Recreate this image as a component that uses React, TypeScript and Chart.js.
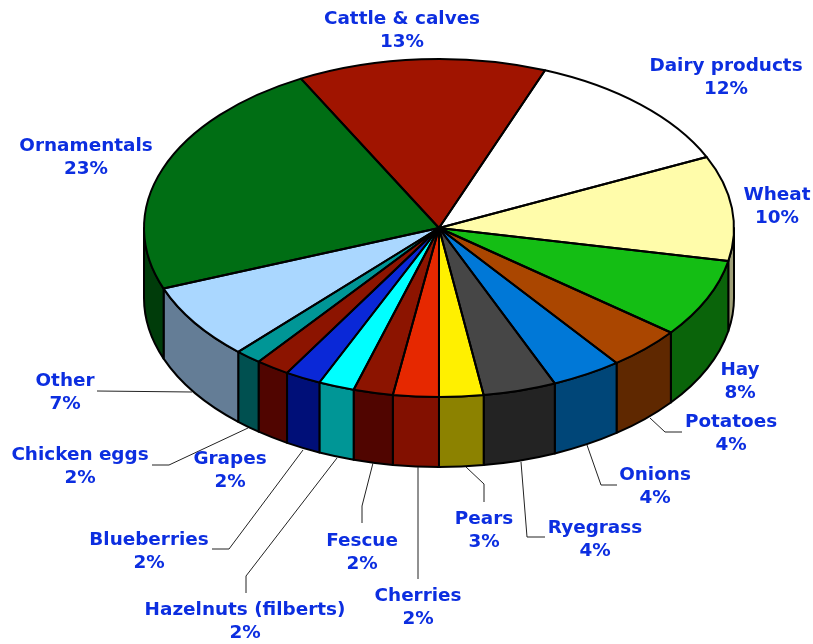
import React, { useEffect, useRef } from "react";
import { Chart, registerables } from "chart.js";

Chart.register(...registerables);

const categories = ["Cattle & calves", "Dairy products", "Wheat", "Hay", "Potatoes", "Onions", "Ryegrass", "Pears", "Cherries", "Fescue", "Hazelnuts (filberts)", "Blueberries", "Grapes", "Chicken eggs", "Other", "Ornamentals"];
const sliceValues = [13.6, 12.25, 10.03, 7.47, 4.11, 3.86, 4.0, 2.42, 2.5, 2.17, 1.97, 1.97, 1.86, 1.44, 7.25, 23.08];
const shownPercents = ["13%", "12%", "10%", "8%", "4%", "4%", "4%", "3%", "2%", "2%", "2%", "2%", "2%", "2%", "7%", "23%"];
const topColors = ["#A01400", "#FFFFFF", "#FFFCAA", "#14BE14", "#AA4600", "#0078D7", "#464646", "#FFF000", "#E62800", "#8C1400", "#00FFFF", "#0A28D7", "#8C1400", "#009696", "#AAD7FF", "#006E14"];
const sideColors = ["#500A00", "#808080", "#A0A078", "#0A640A", "#5F2800", "#004678", "#232323", "#8C8200", "#821000", "#500500", "#009696", "#000F78", "#500500", "#005050", "#647D96", "#003C0A"];

// Presentation only: label anchors (centre x, first-line y) and leader-line paths.
const labelAnchors: [number, number][] = [[402, 18], [726, 65], [777, 194], [740, 369], [731, 421], [655, 474], [595, 527], [484, 518], [418, 595], [362, 540], [245, 609], [149, 539], [230, 458], [80, 454], [65, 380], [86, 145]];
const leaderPaths: [number, number][][] = [
  [[650, 418], [665, 432], [682, 432]],
  [[587, 445], [601, 485], [617, 485]],
  [[521, 462], [527, 537], [545, 537]],
  [[466, 467], [484, 484], [484, 502]],
  [[418, 467], [418, 579]],
  [[373, 463], [362, 506], [362, 523]],
  [[337, 458], [246, 576], [246, 593]],
  [[303, 450], [229, 549], [212, 549]],
  [[248, 428], [169, 465], [152, 465]],
  [[192, 392], [97, 391]],
];

const CENTER_X = 439;
const CENTER_Y = 228;
const RADIUS_Y = 169;
const DEPTH = 70;
const START_ROTATION = -27.9;
const LABEL_FONT = "bold 18.4px 'DejaVu Sans'";
const LABEL_COLOR = "#0C2EE0";
const LINE_GAP = 22.5;
const EDGE_WIDTH = 2;

const pie3d = {
  id: "pie3d",
  beforeDatasetsDraw(chart: any) {
    const ctx = chart.ctx;
    const arcs = chart.getDatasetMeta(0).data;
    const rx = arcs[0].outerRadius;
    ctx.save();
    ctx.lineWidth = EDGE_WIDTH;
    ctx.strokeStyle = "#000";
    ctx.lineJoin = "round";
    arcs.forEach((arc: any, i: number) => {
      // The side wall shows only on the front half of the ellipse, canvas angles 0..PI.
      const ranges: [number, number][] = [];
      for (const shift of [0, Math.PI * 2, -Math.PI * 2]) {
        const a = Math.max(arc.startAngle + shift, 0);
        const b = Math.min(arc.endAngle + shift, Math.PI);
        if (b > a) ranges.push([a, b]);
      }
      for (const [a, b] of ranges) {
        ctx.beginPath();
        ctx.ellipse(CENTER_X, CENTER_Y, rx, RADIUS_Y, 0, a, b);
        ctx.ellipse(CENTER_X, CENTER_Y + DEPTH, rx, RADIUS_Y, 0, b, a, true);
        ctx.closePath();
        ctx.fillStyle = sideColors[i];
        ctx.fill();
        ctx.stroke();
      }
    });
    ctx.restore();
  },
  beforeDatasetDraw(chart: any) {
    const ctx = chart.ctx;
    const arc = chart.getDatasetMeta(0).data[0];
    ctx.save();
    ctx.translate(CENTER_X, CENTER_Y);
    ctx.scale(1, RADIUS_Y / arc.outerRadius);
    ctx.translate(-arc.x, -arc.y);
  },
  afterDatasetDraw(chart: any) {
    const ctx = chart.ctx;
    ctx.restore();
    const arcs = chart.getDatasetMeta(0).data;
    ctx.save();
    ctx.lineWidth = EDGE_WIDTH;
    ctx.strokeStyle = "#000";
    ctx.lineJoin = "round";
    arcs.forEach((arc: any) => {
      ctx.beginPath();
      ctx.moveTo(CENTER_X, CENTER_Y);
      ctx.ellipse(CENTER_X, CENTER_Y, arc.outerRadius, RADIUS_Y, 0, arc.startAngle, arc.endAngle);
      ctx.closePath();
      ctx.stroke();
    });
    ctx.restore();
  },
  afterDraw(chart: any) {
    const ctx = chart.ctx;
    ctx.save();
    ctx.strokeStyle = "#222";
    ctx.lineWidth = 1;
    for (const path of leaderPaths) {
      ctx.beginPath();
      path.forEach(([x, y], i) => (i ? ctx.lineTo(x, y) : ctx.moveTo(x, y)));
      ctx.stroke();
    }
    ctx.font = LABEL_FONT;
    ctx.fillStyle = LABEL_COLOR;
    ctx.textAlign = "center";
    ctx.textBaseline = "middle";
    categories.forEach((name, i) => {
      const [x, y] = labelAnchors[i];
      ctx.fillText(name, x, y + 1.5);
      ctx.fillText(shownPercents[i], x, y + 1.5 + LINE_GAP);
    });
    ctx.restore();
  },
};

export default function App() {
  const ref = useRef<HTMLCanvasElement>(null);
  useEffect(() => {
    const chart = new Chart(ref.current!, {
      type: "pie",
      data: {
        labels: categories,
        datasets: [{ data: sliceValues, backgroundColor: topColors, borderWidth: 0, hoverOffset: 0 }],
      },
      options: {
        responsive: false,
        animation: false,
        rotation: START_ROTATION,
        layout: { padding: { left: 144, right: 79, top: 27, bottom: 27 } },
        plugins: { legend: { display: false }, title: { display: false }, tooltip: { enabled: false } },
      },
      plugins: [pie3d],
    });
    return () => chart.destroy();
  }, []);
  return (
    <div style={{ position: "fixed", left: 0, top: 0, width: 813, height: 644, background: "#fff" }}>
      <canvas ref={ref} width={813} height={644} style={{ display: "block" }} />
    </div>
  );
}
